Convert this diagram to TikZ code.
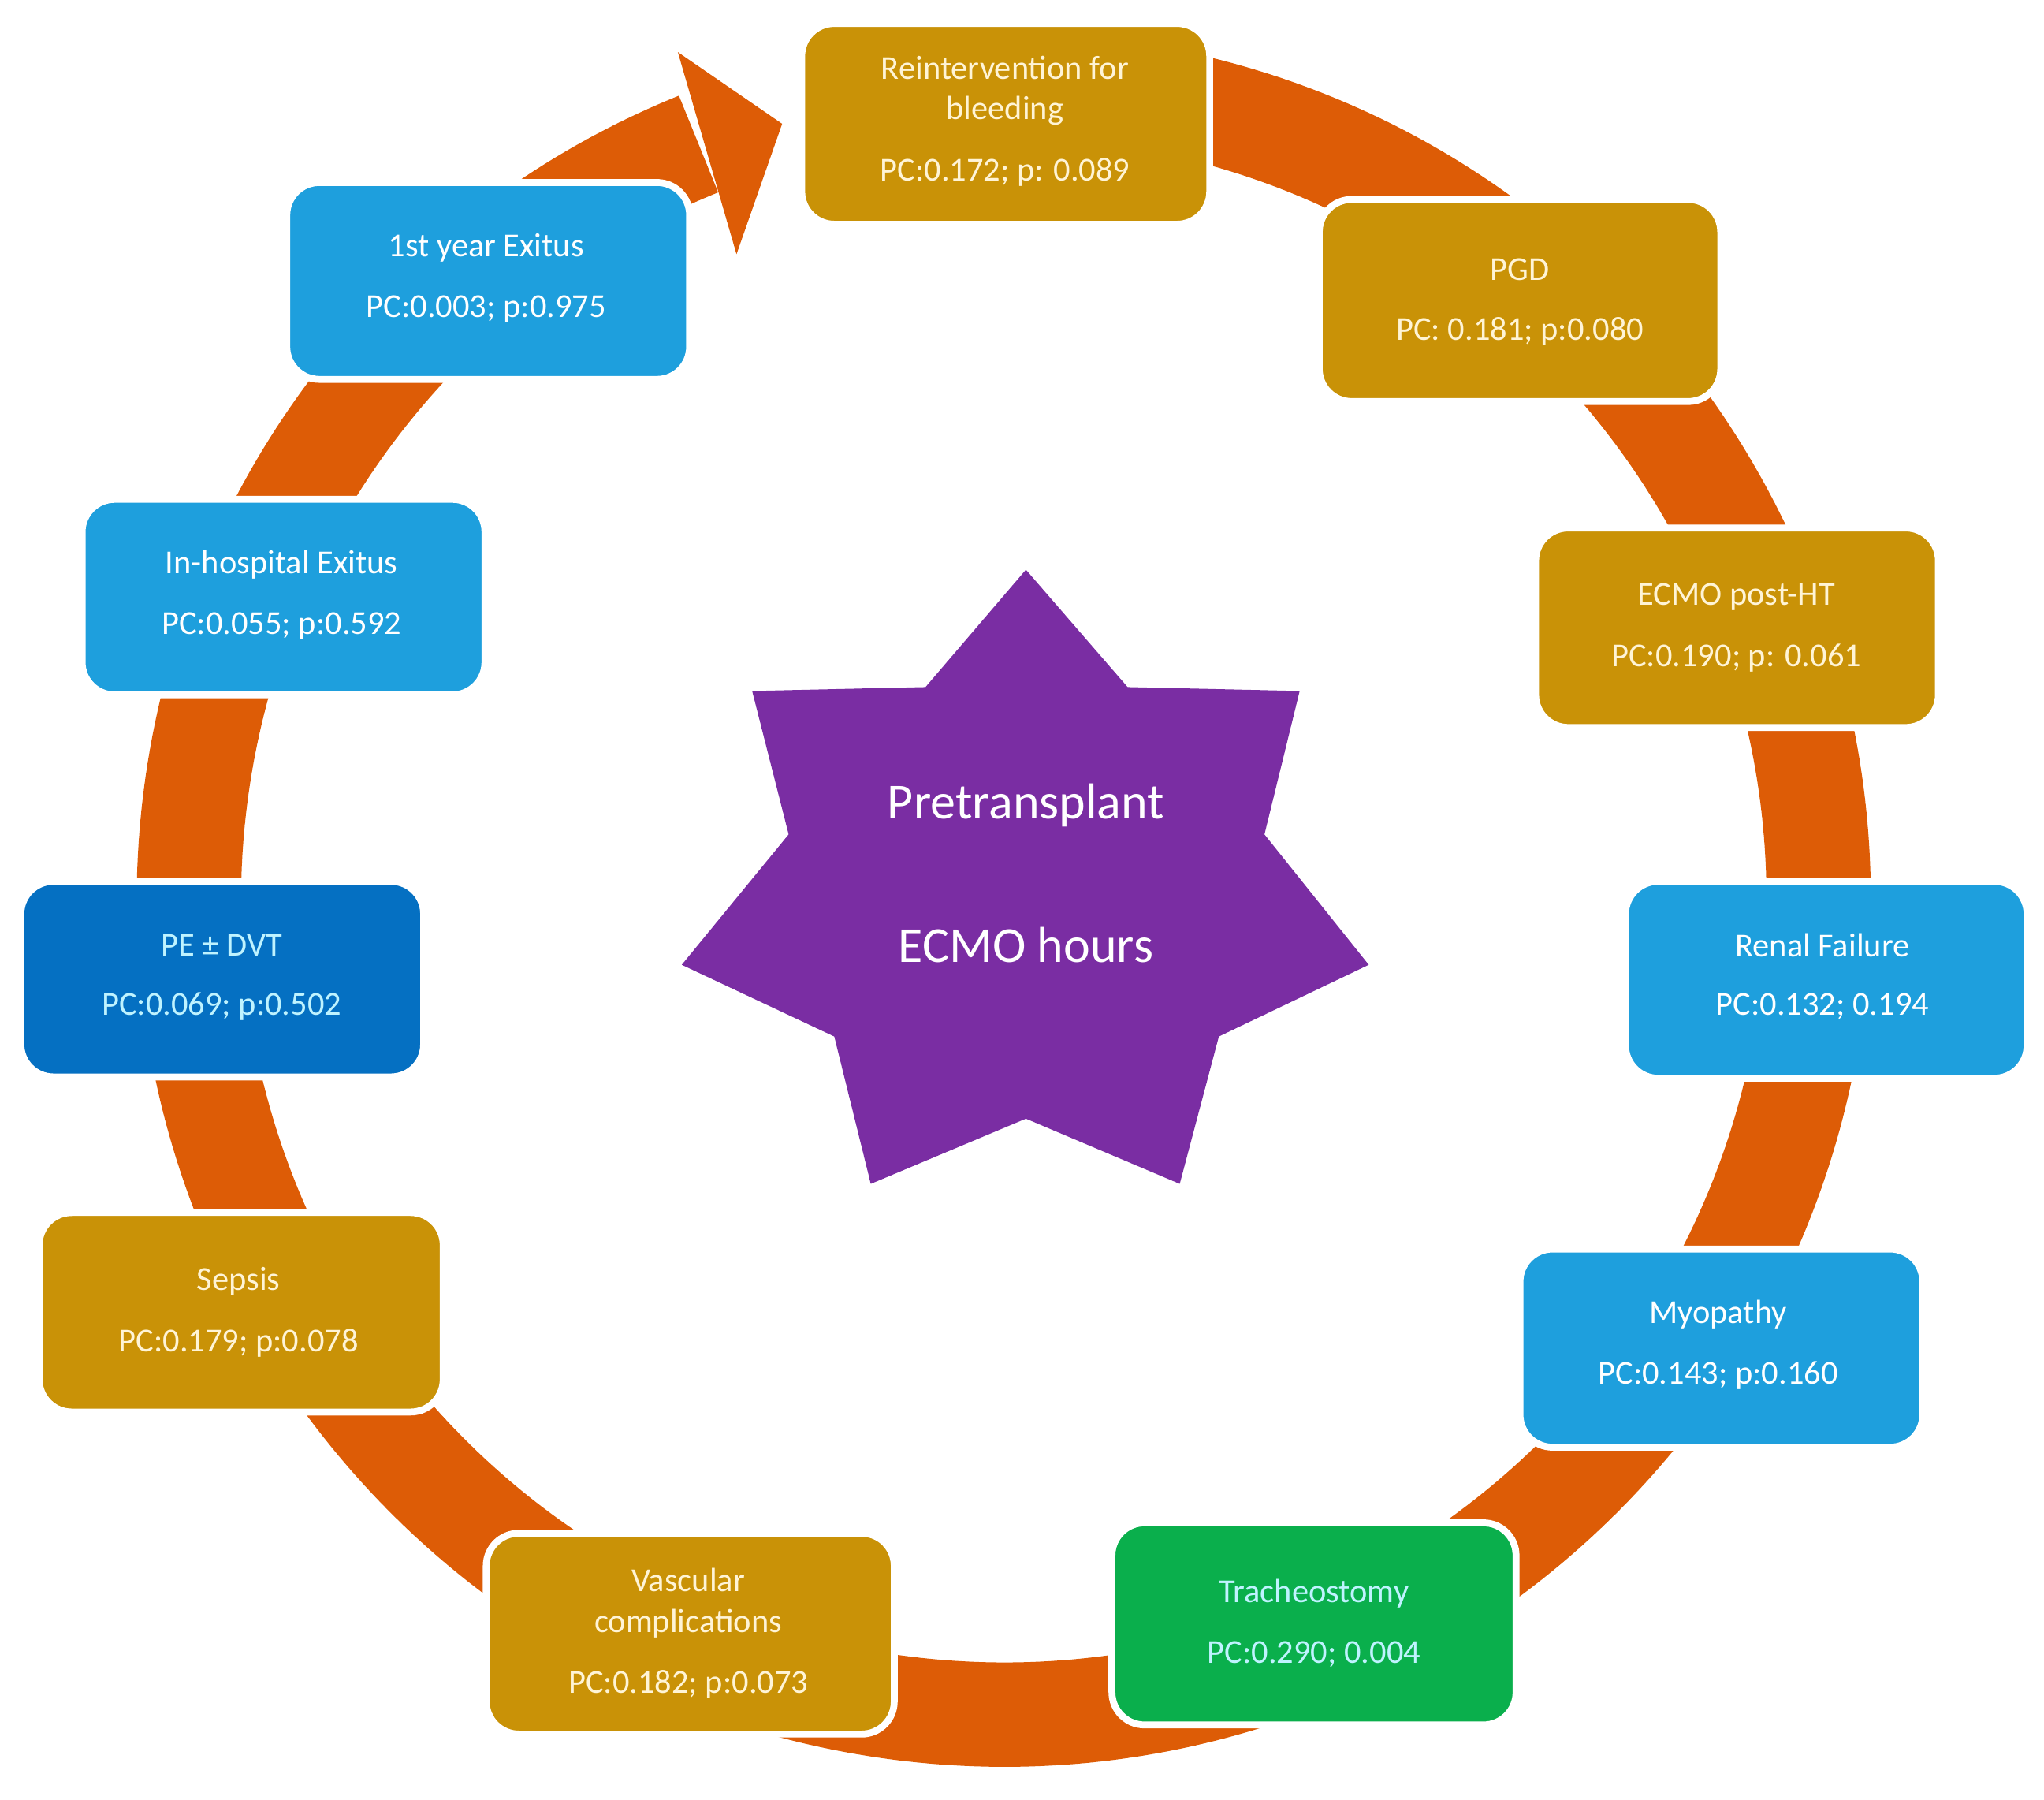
\documentclass[tikz,border=0pt]{standalone}
\usepackage{fontspec}
\setmainfont{Carlito}
\definecolor{ring}{HTML}{DD5C06}
\definecolor{gold}{HTML}{C99207}
\definecolor{lblue}{HTML}{1E9FDD}
\definecolor{dblue}{HTML}{0570C2}
\definecolor{grn}{HTML}{0AAF4C}
\definecolor{purp}{HTML}{7A2DA3}
\definecolor{cyantxt}{HTML}{BFF3FF}
\definecolor{goldtxt}{HTML}{FFF4D6}
\begin{document}
\begin{tikzpicture}[x=0.01cm,y=0.01cm,
  box/.style={draw=white,line width=1.5pt,rounded corners=0.25cm},
  t/.style={font=\fontsize{7.3pt}{9pt}\selectfont,inner sep=0pt,anchor=center},
  big/.style={font=\fontsize{11pt}{13pt}\selectfont,text=white,inner sep=0pt}]
\useasboundingbox (0,0) rectangle (1568,1380);
\coordinate (c) at (770,690);
\draw[ring,line width=0.8cm] ([shift={(80:625)}]c) arc (80:-248:625);
\fill[ring] (600,1285) -- (520,1340) -- (565,1185) -- cycle;
% boxes
\path[box,fill=gold] (615,1208) rectangle (928,1362);
\node[t,text=goldtxt] (r1) at (771,1328) {Reintervention for};
\node[t,text=goldtxt] (r2) at (771,1295) {bleeding};
\node[t,text=goldtxt] (r3) at (771,1248) {PC:0.172; p: 0.089};
\path[box,fill=gold] (1012,1072) rectangle (1320,1227);
\node[t,text=goldtxt] (p1) at (1166,1173) {PGD};
\node[t,text=goldtxt] (p2) at (1166,1126) {PC: 0.181; p:0.080};
\path[box,fill=gold] (1178,822) rectangle (1487,975);
\node[t,text=goldtxt] (e1) at (1332,922) {ECMO post-HT};
\node[t,text=goldtxt] (e2) at (1332,875) {PC:0.190; p: 0.061};
\path[box,fill=lblue] (1247,553) rectangle (1555,704);
\node[t,text=white] (n1) at (1398,655) {Renal Failure};
\node[t,text=white] (n2) at (1398,608) {PC:0.132; 0.194};
\path[box,fill=lblue] (1166,270) rectangle (1475,422);
\node[t,text=white] (m1) at (1318,372) {Myopathy};
\node[t,text=white] (m2) at (1318,325) {PC:0.143; p:0.160};
\path[box,fill=grn] (853,57) rectangle (1163,212);
\node[t,text=cyantxt] (tr1) at (1008,158) {Tracheostomy};
\node[t,text=cyantxt] (tr2) at (1008,111) {PC:0.290; 0.004};
\path[box,fill=gold] (373,50) rectangle (686,204);
\node[t,text=goldtxt] (v1) at (528,168) {Vascular};
\node[t,text=goldtxt] (v2) at (528,135) {complications};
\node[t,text=goldtxt] (v3) at (528,88) {PC:0.182; p:0.073};
\path[box,fill=gold] (30,297) rectangle (340,450);
\node[t,text=goldtxt] (s1) at (183,397) {Sepsis};
\node[t,text=goldtxt] (s2) at (183,350) {PC:0.179; p:0.078};
\path[box,fill=dblue] (16,554) rectangle (325,704);
\node[t,text=cyantxt] (d1) at (170,655) {PE ± DVT};
\node[t,text=cyantxt] (d2) at (170,608) {PC:0.069; p:0.502};
\path[box,fill=lblue] (63,847) rectangle (372,997);
\node[t,text=white] (h1) at (216,947) {In-hospital Exitus};
\node[t,text=white] (h2) at (216,900) {PC:0.055; p:0.592};
\path[box,fill=lblue] (220,1089) rectangle (529,1240);
\node[t,text=white] (y1) at (373,1190) {1st year Exitus};
\node[t,text=white] (y2) at (373,1143) {PC:0.003; p:0.975};
% star
\fill[purp] (787,943) -- (865,853) -- (997,850) -- (970,740) -- (1050,640) -- (935,585) -- (905,472) -- (787,522) -- (668,472) -- (640,585) -- (523,640) -- (605,740) -- (577,850) -- (710,853) -- cycle;
\node[big] (st1) at (787,762) {Pretransplant};
\node[big] (st2) at (787,655) {ECMO hours};
\end{tikzpicture}
\end{document}
